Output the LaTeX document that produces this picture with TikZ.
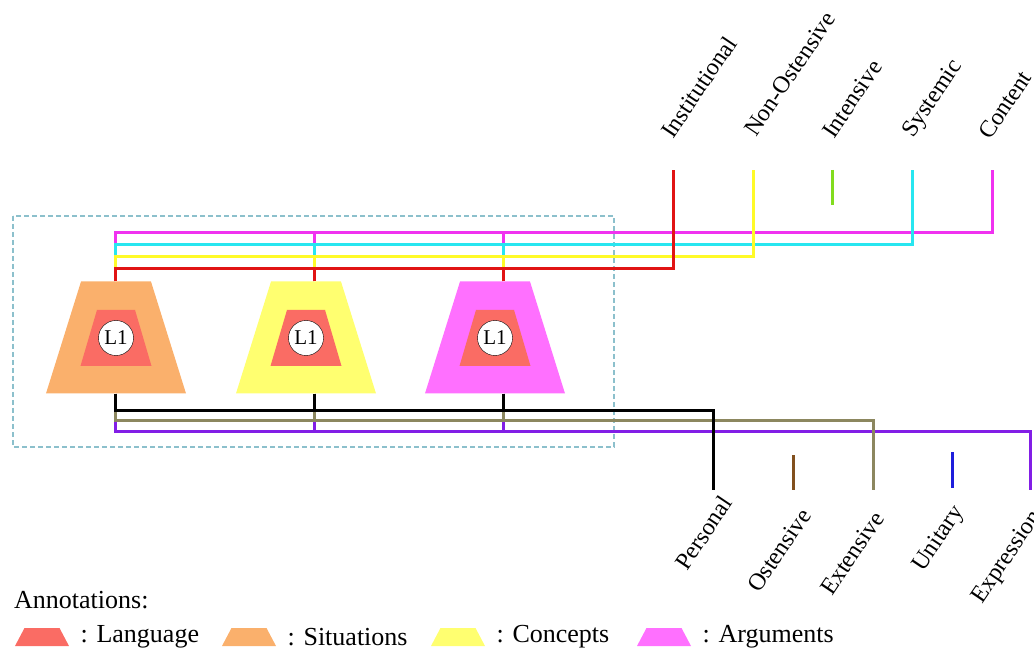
\documentclass[tikz,border=0pt]{standalone}
\usepackage{fontspec}
\setmainfont{Liberation Serif}
\usepackage{xcolor}
\usepackage{tikz}
\usetikzlibrary{shapes.geometric}
\usetikzlibrary{positioning}

\definecolor{sitfill}{RGB}{250,176,108}
\definecolor{confill}{RGB}{255,255,112}
\definecolor{argfill}{RGB}{255,112,255}
\definecolor{langfill}{RGB}{250,108,100}
\definecolor{lnred}{RGB}{225,20,20}
\definecolor{lnyellow}{RGB}{255,250,40}
\definecolor{lngreen}{RGB}{130,220,30}
\definecolor{lncyan}{RGB}{40,230,240}
\definecolor{lnmag}{RGB}{240,50,240}
\definecolor{lnolive}{RGB}{140,135,95}
\definecolor{lnbrown}{RGB}{130,80,30}
\definecolor{lnblue}{RGB}{30,30,220}
\definecolor{lnpurple}{RGB}{130,30,230}
\definecolor{boxblue}{RGB}{140,192,204}

\begin{document}
\begin{tikzpicture}[x=1pt,y=-1pt,
                    schema/.style={trapezium, trapezium left angle=63.4, trapezium right angle=63.4,
                                   trapezium stretches=true, inner sep=1pt,
                                   minimum width=140pt, minimum height=112pt},
                    langschema/.style={schema, trapezium left angle=66.6, trapezium right angle=66.6,
                                       minimum width=71pt, minimum height=56pt, fill=langfill},
                    lone/.style={circle, draw, fill=white, inner sep=0pt, minimum size=35pt,
                                 font=\fontsize{21}{23}\selectfont},
                    wire/.style={line width=3pt},
                    slantlab/.style={rotate=56, anchor=base west, inner sep=0pt,
                                     font=\fontsize{24}{28}\selectfont},
                    groupbox/.style={draw=boxblue, line width=2pt, dash pattern=on 5pt off 3pt},
                    keytrap/.style={trapezium, trapezium left angle=74.8, trapezium right angle=74.8,
                                    trapezium stretches=true, inner sep=1pt,
                                    minimum width=54pt, minimum height=18pt},
                    keytext/.style={inner sep=0pt, font=\fontsize{26}{30}\selectfont}]
    \useasboundingbox (0,0) rectangle (1034,652);

    % group
    \draw[groupbox] (13,216) rectangle (614,447);

    % schemas
    \node[schema, fill=sitfill] (sit) at (116,337.5) {};
    \node[schema, fill=confill] (con) at (306,337.5) {};
    \node[schema, fill=argfill] (arg) at (495,337.5) {};
    \node[langschema] (sitlang) at (116,338) {};
    \node[langschema] (conlang) at (306,338) {};
    \node[langschema] (arglang) at (495,338) {};
    \node[lone] (sitone) at (sitlang) {L1};
    \node[lone] (conone) at (conlang) {L1};
    \node[lone] (argone) at (arglang) {L1};

    \coordinate (situp) at ([xshift=-1pt]sit.north);
    \coordinate (conup) at ([xshift=8pt]con.north);
    \coordinate (argup) at ([xshift=8pt]arg.north);
    \coordinate (sitdn) at ([xshift=-1pt]sit.south);
    \coordinate (condn) at ([xshift=8pt]con.south);
    \coordinate (argdn) at ([xshift=8pt]arg.south);

    % line ends
    \coordinate (inst) at (673,170);
    \coordinate (nonost) at (753,170);
    \coordinate (intA) at (832,170);
    \coordinate (intB) at (832,205);
    \coordinate (sys) at (912,170);
    \coordinate (cont) at (992,170);
    \coordinate (pers) at (713,490);
    \coordinate (ostA) at (793,455);
    \coordinate (ostB) at (793,490);
    \coordinate (ext) at (873,490);
    \coordinate (uniA) at (952,452);
    \coordinate (uniB) at (952,488);
    \coordinate (expr) at (1030,490);

    % top wires
    \foreach \c/\y/\e in {lnmag/233/cont, lncyan/245/sys, lnyellow/257/nonost, lnred/269/inst} {
        \draw[wire, \c] (situp) |- (\e |- 0,\y) -- (\e);
        \draw[wire, \c] (conup) -- (conup |- 0,\y);
        \draw[wire, \c] (argup) -- (argup |- 0,\y);
    }
    \draw[wire, lngreen] (intA) -- (intB);

    % bottom wires
    \foreach \c/\y/\e in {lnpurple/431/expr, lnolive/420/ext, black/410/pers} {
        \draw[wire, \c] (sitdn) |- (\e |- 0,\y) -- (\e);
        \draw[wire, \c] (condn) -- (condn |- 0,\y);
        \draw[wire, \c] (argdn) -- (argdn |- 0,\y);
    }
    \draw[wire, lnbrown] (ostA) -- (ostB);
    \draw[wire, lnblue] (uniA) -- (uniB);

    % labels
    \node[slantlab] (instlab) at (673,140) {Institutional};
    \node[slantlab] (nonostlab) at (756,138) {Non-Ostensive};
    \node[slantlab] (intlab) at (834,140) {Intensive};
    \node[slantlab] (syslab) at (913,139) {Systemic};
    \node[slantlab] (contlab) at (990,141) {Content};
    \node[slantlab] (perslab) at (687,572) {Personal};
    \node[slantlab] (ostlab) at (759,594) {Ostensive};
    \node[slantlab] (extlab) at (832,597) {Extensive};
    \node[slantlab] (unilab) at (923,573) {Unitary};
    \node[slantlab] (exprlab) at (982,605) {Expression};

    % annotations
    \node[keytext, anchor=base west] (annot) at (14,608) {Annotations:};
    \node[keytrap, fill=langfill] (keylang) at (42,637) {};
    \node[keytrap, fill=sitfill] (keysit) at (249,637) {};
    \node[keytrap, fill=confill] (keycon) at (458,637) {};
    \node[keytrap, fill=argfill] (keyarg) at (664,637) {};
    \node[keytext, right=16pt of keylang] (txlang) {: Language};
    \node[keytext, right=16pt of keysit] (txsit) {: Situations};
    \node[keytext, right=16pt of keycon] (txcon) {: Concepts};
    \node[keytext, right=16pt of keyarg] (txarg) {: Arguments};
\end{tikzpicture}
\end{document}
